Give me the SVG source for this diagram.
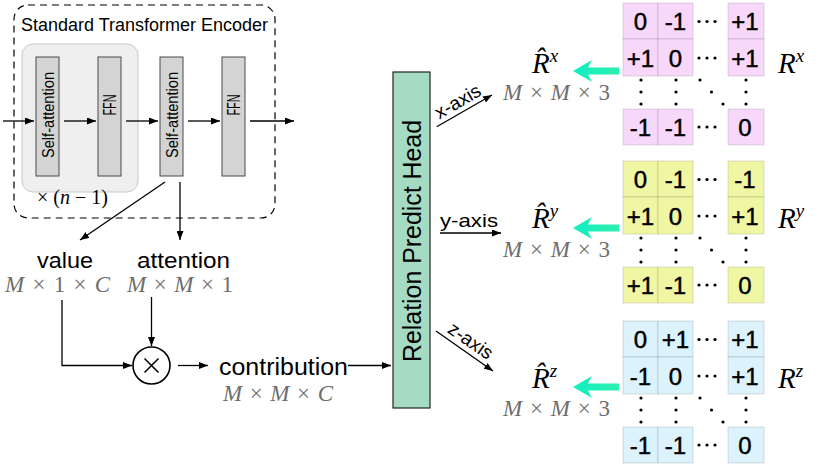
<svg xmlns="http://www.w3.org/2000/svg" width="830" height="467" viewBox="0 0 830 467">
<defs>
<marker id="ah" markerWidth="9" markerHeight="7" refX="9" refY="3.5" orient="auto" markerUnits="userSpaceOnUse"><path d="M0,0 L9,3.5 L0,7 z" fill="#000"/></marker>
<linearGradient id="cy" x1="0" y1="0" x2="1" y2="0"><stop offset="0" stop-color="#12eec0"/><stop offset="1" stop-color="#2cf0b0"/></linearGradient>
<style>
.sans{font-family:"Liberation Sans",Arial,sans-serif;fill:#000}
.math{font-family:"Liberation Serif","Times New Roman",serif;fill:#000}
.dim{font-family:"Liberation Serif","Times New Roman",serif;font-size:23px;fill:#6e6e6e}
.it{font-style:italic}
.blk{fill:#d4d4d4;stroke:#4a4a4a;stroke-width:1}
.ln{stroke:#000;stroke-width:1.3;fill:none}
.arr{marker-end:url(#ah)}
.num{font-family:"Liberation Sans",Arial,sans-serif;font-size:24px;text-anchor:middle;fill:#000;stroke:#000;stroke-width:0.45}
.cyan{fill:url(#cy)}
</style>
<g id="grid" stroke="#000" stroke-opacity="0.13" stroke-width="1">
<rect x="623" y="3" width="35" height="36"/><rect x="658" y="3" width="35" height="36"/><rect x="728" y="3" width="36" height="36"/>
<rect x="623" y="39" width="35" height="37"/><rect x="658" y="39" width="35" height="37"/><rect x="728" y="39" width="36" height="37"/>
<rect x="623" y="109" width="35" height="36"/><rect x="658" y="109" width="35" height="36"/><rect x="728" y="109" width="36" height="36"/>
</g>
<g id="gdots" fill="#000">
<circle cx="699" cy="21.5" r="1.6"/><circle cx="707" cy="21.5" r="1.6"/><circle cx="715" cy="21.5" r="1.6"/>
<circle cx="699" cy="58" r="1.6"/><circle cx="707" cy="58" r="1.6"/><circle cx="715" cy="58" r="1.6"/>
<circle cx="699" cy="127" r="1.6"/><circle cx="707" cy="127" r="1.6"/><circle cx="715" cy="127" r="1.6"/>
<circle cx="641" cy="80" r="1.6"/><circle cx="641" cy="92" r="1.6"/><circle cx="641" cy="104" r="1.6"/>
<circle cx="676" cy="80" r="1.6"/><circle cx="676" cy="92" r="1.6"/><circle cx="676" cy="104" r="1.6"/>
<circle cx="746" cy="80" r="1.6"/><circle cx="746" cy="92" r="1.6"/><circle cx="746" cy="104" r="1.6"/>
<circle cx="700" cy="80" r="1.6"/><circle cx="711.5" cy="92" r="1.6"/><circle cx="723" cy="104" r="1.6"/>
</g>
<polygon id="cyarrow" class="cyan" points="573,71 592,60 588,67.5 619,67.5 619,74.5 588,74.5 592,82"/>
</defs>
<rect width="830" height="467" fill="#fff"/>

<g id="encoder">
<rect x="14" y="5" width="261" height="213" rx="14" fill="none" stroke="#000" stroke-width="1.2" stroke-dasharray="7 5"/>
<text x="21" y="31" class="sans" font-size="17.5" textLength="247" lengthAdjust="spacingAndGlyphs">Standard Transformer Encoder</text>
</g>
<g id="repeat-block">
<rect x="22" y="44" width="116" height="148" rx="11" fill="#efefef" stroke="#c8c8c8"/>
<text x="37" y="204" class="math" font-size="20" textLength="71" lengthAdjust="spacing">× (<tspan class="it">n</tspan> − 1)</text>
</g>
<g id="self-attention-1">
<rect class="blk" x="36" y="57" width="23" height="119"/>
<text class="sans" font-size="16" text-anchor="middle" textLength="86" lengthAdjust="spacingAndGlyphs" transform="translate(53.5,115) rotate(-90)">Self-attention</text>
</g>
<g id="ffn-1">
<rect class="blk" x="98" y="57" width="23" height="119"/>
<text class="sans" font-size="18" text-anchor="middle" textLength="21" lengthAdjust="spacingAndGlyphs" transform="translate(116,105) rotate(-90)">FFN</text>
</g>
<g id="self-attention-2">
<rect class="blk" x="160" y="57" width="23" height="119"/>
<text class="sans" font-size="16" text-anchor="middle" textLength="86" lengthAdjust="spacingAndGlyphs" transform="translate(177.5,115) rotate(-90)">Self-attention</text>
</g>
<g id="ffn-2">
<rect class="blk" x="222" y="57" width="23" height="119"/>
<text class="sans" font-size="18" text-anchor="middle" textLength="21" lengthAdjust="spacingAndGlyphs" transform="translate(240,105) rotate(-90)">FFN</text>
</g>

<g id="value">
<text x="65" y="268" class="sans" font-size="22" text-anchor="middle" textLength="56" lengthAdjust="spacingAndGlyphs">value</text>
<text x="5" y="292" class="dim" textLength="105" lengthAdjust="spacing"><tspan class="it">M</tspan> × 1 × <tspan class="it">C</tspan></text>
</g>
<g id="attention">
<text x="137" y="268" class="sans" font-size="22" textLength="93" lengthAdjust="spacingAndGlyphs">attention</text>
<text x="127" y="292" class="dim" textLength="106" lengthAdjust="spacing"><tspan class="it">M</tspan> × <tspan class="it">M</tspan> × 1</text>
</g>
<g id="multiply">
<circle cx="151.5" cy="365.5" r="18.5" fill="#fff" stroke="#000" stroke-width="1.6"/>
<path d="M144.5,358.5 L158.5,372.5 M158.5,358.5 L144.5,372.5" stroke="#000" stroke-width="1.5"/>
</g>
<g id="contribution">
<text x="219" y="375" class="sans" font-size="23" textLength="129" lengthAdjust="spacingAndGlyphs">contribution</text>
<text x="223" y="401" class="dim" textLength="110" lengthAdjust="spacing"><tspan class="it">M</tspan> × <tspan class="it">M</tspan> × <tspan class="it">C</tspan></text>
</g>
<g id="relation-predict-head">
<rect x="393" y="72" width="37" height="336" fill="#a4dbc2" stroke="#222" stroke-width="1.2"/>
<text class="sans" font-size="26" text-anchor="middle" textLength="242" lengthAdjust="spacingAndGlyphs" transform="translate(421,241) rotate(-90)">Relation Predict Head</text>
</g>

<g id="connectors">
<line class="ln arr" x1="3" y1="121" x2="34" y2="121"/>
<line class="ln arr" x1="64" y1="121" x2="96" y2="121"/>
<line class="ln arr" x1="126" y1="121" x2="158" y2="121"/>
<line class="ln arr" x1="188" y1="121" x2="220" y2="121"/>
<line class="ln arr" x1="250" y1="121" x2="294" y2="121"/>
<line class="ln arr" x1="165" y1="182" x2="80" y2="240"/>
<line class="ln arr" x1="180" y1="182" x2="180" y2="240"/>
<path class="ln arr" d="M62,300 V365.5 H132"/>
<line class="ln arr" x1="151.5" y1="297" x2="151.5" y2="346"/>
<line class="ln arr" x1="178" y1="365.5" x2="208" y2="365.5"/>
<line class="ln arr" x1="348" y1="365.5" x2="391" y2="365.5"/>
<line class="ln arr" x1="436.7" y1="126.7" x2="492" y2="95"/>
<line class="ln arr" x1="440" y1="233" x2="501" y2="233"/>
<line class="ln arr" x1="436" y1="331" x2="493" y2="371"/>
<text class="sans" font-size="19" text-anchor="middle" textLength="50" lengthAdjust="spacingAndGlyphs" transform="translate(461,107) rotate(-30)">x-axis</text>
<text x="440" y="227" class="sans" font-size="19" textLength="58" lengthAdjust="spacingAndGlyphs">y-axis</text>
<text class="sans" font-size="19" text-anchor="middle" textLength="50" lengthAdjust="spacingAndGlyphs" transform="translate(467,346) rotate(35)">z-axis</text>
</g>

<g id="pred-x">
<text x="532" y="73" class="math it" font-size="29">R̂<tspan font-size="19" dy="-11">x</tspan></text>
<text x="503" y="100" class="dim" textLength="107" lengthAdjust="spacing"><tspan class="it">M</tspan> × <tspan class="it">M</tspan> × 3</text>
<use href="#cyarrow"/>
</g>
<g id="pred-y">
<text x="532" y="228" class="math it" font-size="29">R̂<tspan font-size="19" dy="-11">y</tspan></text>
<text x="503" y="257" class="dim" textLength="107" lengthAdjust="spacing"><tspan class="it">M</tspan> × <tspan class="it">M</tspan> × 3</text>
<use href="#cyarrow" transform="translate(0,157)"/>
</g>
<g id="pred-z">
<text x="532" y="388" class="math it" font-size="29">R̂<tspan font-size="19" dy="-11">z</tspan></text>
<text x="503" y="416" class="dim" textLength="107" lengthAdjust="spacing"><tspan class="it">M</tspan> × <tspan class="it">M</tspan> × 3</text>
<use href="#cyarrow" transform="translate(0,316)"/>
</g>

<g id="matrix-x">
<use href="#grid" fill="#f8d8fa"/>
<use href="#gdots"/>
<text class="num" x="640.5" y="30">0</text><text class="num" x="675.5" y="30">-1</text><text class="num" x="745" y="30">+1</text>
<text class="num" x="640.5" y="66.5">+1</text><text class="num" x="675.5" y="66.5">0</text><text class="num" x="745" y="66.5">+1</text>
<text class="num" x="640.5" y="135.5">-1</text><text class="num" x="675.5" y="135.5">-1</text><text class="num" x="745" y="135.5">0</text>
<text x="778" y="73" class="math it" font-size="29">R<tspan font-size="19" dy="-11">x</tspan></text>
</g>
<g id="matrix-y">
<g transform="translate(0,158)">
<use href="#grid" fill="#eff7a4"/>
<use href="#gdots"/>
<text class="num" x="640.5" y="30">0</text><text class="num" x="675.5" y="30">-1</text><text class="num" x="745" y="30">-1</text>
<text class="num" x="640.5" y="66.5">+1</text><text class="num" x="675.5" y="66.5">0</text><text class="num" x="745" y="66.5">+1</text>
<text class="num" x="640.5" y="135.5">+1</text><text class="num" x="675.5" y="135.5">-1</text><text class="num" x="745" y="135.5">0</text>
</g>
<text x="778" y="228" class="math it" font-size="29">R<tspan font-size="19" dy="-11">y</tspan></text>
</g>
<g id="matrix-z">
<g transform="translate(0,318)">
<use href="#grid" fill="#dcf2fc"/>
<use href="#gdots"/>
<text class="num" x="640.5" y="30">0</text><text class="num" x="675.5" y="30">+1</text><text class="num" x="745" y="30">+1</text>
<text class="num" x="640.5" y="66.5">-1</text><text class="num" x="675.5" y="66.5">0</text><text class="num" x="745" y="66.5">+1</text>
<text class="num" x="640.5" y="135.5">-1</text><text class="num" x="675.5" y="135.5">-1</text><text class="num" x="745" y="135.5">0</text>
</g>
<text x="778" y="388" class="math it" font-size="29">R<tspan font-size="19" dy="-11">z</tspan></text>
</g>
</svg>
